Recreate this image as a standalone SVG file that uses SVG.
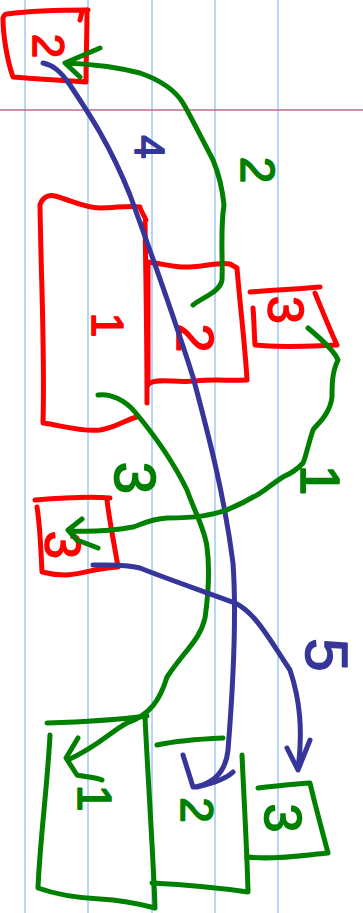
<svg xmlns="http://www.w3.org/2000/svg" width="363" height="913" viewBox="0 0 363 913">
<style>
.rule{stroke:#a6cdf7;stroke-width:1.6}
.margin{stroke:#bf6a8a;stroke-width:1.6}
.s{fill:none;stroke-width:5;stroke-linecap:round;stroke-linejoin:round}
.r{stroke:#ff0000}
.g{stroke:#008000}
.b{stroke:#36369a}
.t{font-family:"Liberation Sans",Arial,sans-serif;text-anchor:middle;stroke-width:1.6;stroke-linejoin:round}
.tr{fill:#ff0000;stroke:#ff0000}
.tg{fill:#008000;stroke:#008000}
.tb{fill:#36369a;stroke:#36369a}
</style>
<rect width="363" height="913" fill="#ffffff"/>
<g id="paper">
<line class="rule" x1="25" y1="0" x2="25" y2="913"/>
<line class="rule" x1="88" y1="0" x2="88" y2="913"/>
<line class="rule" x1="152" y1="0" x2="152" y2="913"/>
<line class="rule" x1="215" y1="0" x2="215" y2="913"/>
<line class="rule" x1="278" y1="0" x2="278" y2="913"/>
<line class="margin" x1="0" y1="110" x2="363" y2="110"/>
</g>
<g id="red2">
<path class="s r" d="M7,14 C30,11 60,10 88,10 M82,12 L80,20 M87,10 C87,35 86,60 86,82 C60,80 35,79 13,77 C7,60 3,35 3,18 C4,15 6,14 7,14"/>
<text class="t tr" font-size="44" transform="rotate(90 48 46)" x="48" y="46" dy="0.35em">2</text>
</g>
<g id="red1">
<path class="s r" d="M40,205 C42,198 48,194 55,196 C70,200 85,208 100,208 C115,208 130,205 140,207 M146,220 L140,208 M40,205 C41,280 45,350 43,423 C60,425 80,432 100,430 C115,428 125,420 137,417 M145,222 C146,280 147,350 147,403"/>
<text class="t tr" font-size="44" transform="rotate(90 107 325)" x="107" y="325" dy="0.35em">1</text>
</g>
<g id="red2b">
<path class="s r" d="M148,262 C165,264 175,268 190,267 C205,266 220,262 230,264 L237,268 C240,305 245,345 247,380 C230,381 215,379 195,381 C175,383 160,378 150,383 M148,262 L148,385"/>
<text class="t tr" font-size="52" transform="rotate(90 195 338)" x="195" y="338" dy="0.35em">2</text>
</g>
<g id="red3">
<path class="s r" d="M250,292 C275,290 300,289 320,287 M315,293 C322,310 330,330 337,345 C310,346 280,348 255,345 C254,330 254,318 253,308"/>
<text class="t tr" font-size="50" transform="rotate(90 285 310)" x="285" y="310" dy="0.35em">3</text>
</g>
<g id="red3b">
<path class="s r" d="M35,500 C60,498 85,496 110,498 M107,500 C110,525 115,548 118,567 C95,568 80,575 65,575 C50,575 44,572 42,572 C41,550 40,525 37,507"/>
<text class="t tr" font-size="50" transform="rotate(90 62 545)" x="62" y="545" dy="0.35em">3</text>
</g>
<g id="green1">
<path class="s g" d="M47,723 C80,722 115,720 147,716 M50,735 C47,790 40,840 38,888 C60,896 80,898 100,899 C120,900 140,904 155,908 M145,717 C148,780 153,850 155,908"/>
<text class="t tg" font-size="48" transform="rotate(90 95 798)" x="95" y="798" dy="0.35em">1</text>
</g>
<g id="green2">
<path class="s g" d="M157,745 C180,740 200,739 223,738 M242,755 C244,800 247,850 248,892 C220,888 190,885 152,883"/>
<text class="t tg" font-size="46" transform="rotate(90 197 810)" x="197" y="810" dy="0.35em">2</text>
</g>
<g id="green3">
<path class="s g" d="M258,788 C275,786 292,784 310,783 C315,805 322,830 328,853 C305,855 275,860 247,857"/>
<text class="t tg" font-size="52" transform="rotate(90 283 818)" x="283" y="818" dy="0.35em">3</text>
</g>
<g id="connectors">
<path class="s g" d="M193,305 C203,297 220,292 222,280 C223,260 220,230 224,205 C222,185 218,172 213,160 C200,135 190,115 183,103 C175,90 160,80 140,73 C120,68 95,64 65,63 M100,48 L65,63 L80,77"/>
<text class="t tg" font-size="48" transform="rotate(90 258 170)" x="258" y="170" dy="0.35em">2</text>
<path class="s b" d="M43,63 C52,65 60,70 70,85 C90,115 110,145 130,195 C150,250 175,320 193,377 C210,440 225,500 233,563 C237,620 232,700 228,750 C226,770 215,783 195,787 M183,755 L193,787 M197,787 C210,784 225,780 233,772"/>
<text class="t tb" font-size="42" transform="rotate(90 150 147)" x="150" y="147" dy="0.35em">4</text>
<path class="s g" d="M308,328 C320,338 335,352 338,360 C332,372 332,385 332,397 C330,415 316,425 313,430 C308,445 305,460 303,463 C295,472 285,476 283,477 C270,485 260,495 253,497 C240,505 230,508 227,510 C210,515 200,518 167,518 C150,519 140,525 133,527 C110,531 90,532 72,531 M82,519 L68,530 L77,540 L98,548"/>
<text class="t tg" font-size="55" transform="rotate(90 320 480)" x="320" y="480" dy="0.35em">1</text>
<path class="s g" d="M98,395 C110,393 125,400 135,412 C150,430 170,455 187,490 C196,515 205,530 207,547 C210,570 209,590 205,618 C200,640 185,650 167,677 C160,700 150,715 127,723 C110,732 100,745 68,760 M78,738 L66,758 L77,775 C85,777 95,777 102,780"/>
<text class="t tg" font-size="58" transform="rotate(90 135 478)" x="135" y="478" dy="0.35em">3</text>
<path class="s b" d="M93,565 C110,565 125,564 140,568 C170,580 200,590 235,603 C255,612 270,640 290,670 C300,700 303,730 298,770 M287,748 L298,770 L310,740"/>
<text class="t tb" font-size="60" transform="rotate(90 327 655)" x="327" y="655" dy="0.35em">5</text>
</g>
</svg>
